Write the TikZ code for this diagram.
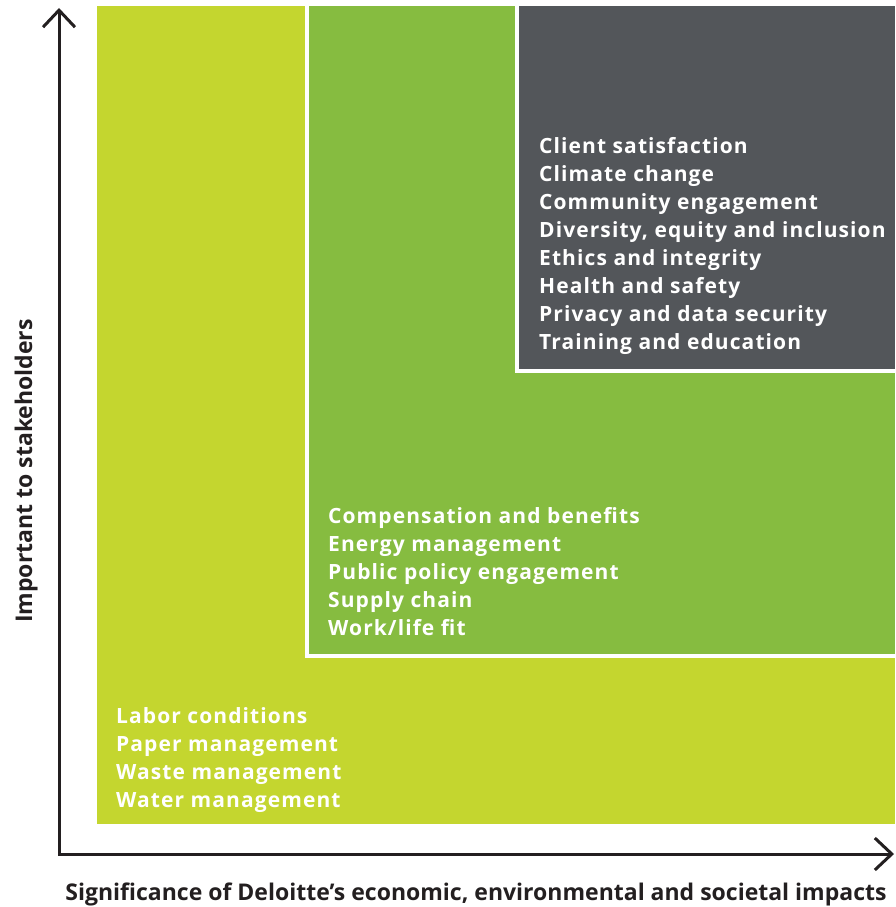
\documentclass[tikz,border=0pt]{standalone}
\usepackage{fontspec}
\setmainfont{Open Sans}
\newfontfamily\itemfont[LetterSpace=5.2]{Open Sans}
\usetikzlibrary{arrows.meta}
\definecolor{lime}{RGB}{196,214,47}
\definecolor{leaf}{RGB}{134,188,64}
\definecolor{slate}{RGB}{83,86,90}
\definecolor{ink}{RGB}{35,31,32}
\tikzset{
  item/.style={anchor=base west, inner sep=0pt, text=white, font=\itemfont\fontsize{21}{28}\selectfont\bfseries},
  axislabel/.style={inner sep=0pt, text=ink, font=\fontsize{23}{28}\selectfont\bfseries},
  axisline/.style={line width=3pt, draw=ink, {Straight Barb[length=17pt,width=32pt,line width=3pt]}-{Straight Barb[length=17pt,width=32pt,line width=3pt]}}
}
\begin{document}
\begin{tikzpicture}[x=1pt,y=-1pt]
\useasboundingbox (0,0) rectangle (895,907);
% regions
\fill[lime] (97,6) rectangle (895,824);
\fill[white] (305,6) rectangle (895,658);
\fill[leaf] (309,6) rectangle (895,654);
\fill[white] (515,6) rectangle (895,373);
\fill[slate] (519,6) rectangle (895,369);
% items
\foreach \t [count=\i] in {Client satisfaction, Climate change, Community engagement, {Diversity, equity and inclusion}, Ethics and integrity, Health and safety, Privacy and data security, Training and education}
  \node[item] (g\i) at (539,{153+28*(\i-1)}) {\t};
\foreach \t [count=\i] in {Compensation and benefits, Energy management, Public policy engagement, Supply chain, Work/life fit}
  \node[item] (m\i) at (328,{523+28*(\i-1)}) {\t};
\foreach \t [count=\i] in {Labor conditions, Paper management, Waste management, Water management}
  \node[item] (l\i) at (116,{723+28*(\i-1)}) {\t};
% axes
\coordinate (ytop) at (59,8);
\coordinate (corner) at (59,854);
\coordinate (xend) at (894,854);
\draw[axisline] (ytop) -- (corner) -- (xend);
\node[axislabel, anchor=base] (xlab) at (476,900) {Significance of Deloitte’s economic, environmental and societal impacts};
\node[axislabel, anchor=base, rotate=90] (ylab) at (32,471) {Important to stakeholders};
\end{tikzpicture}
\end{document}
